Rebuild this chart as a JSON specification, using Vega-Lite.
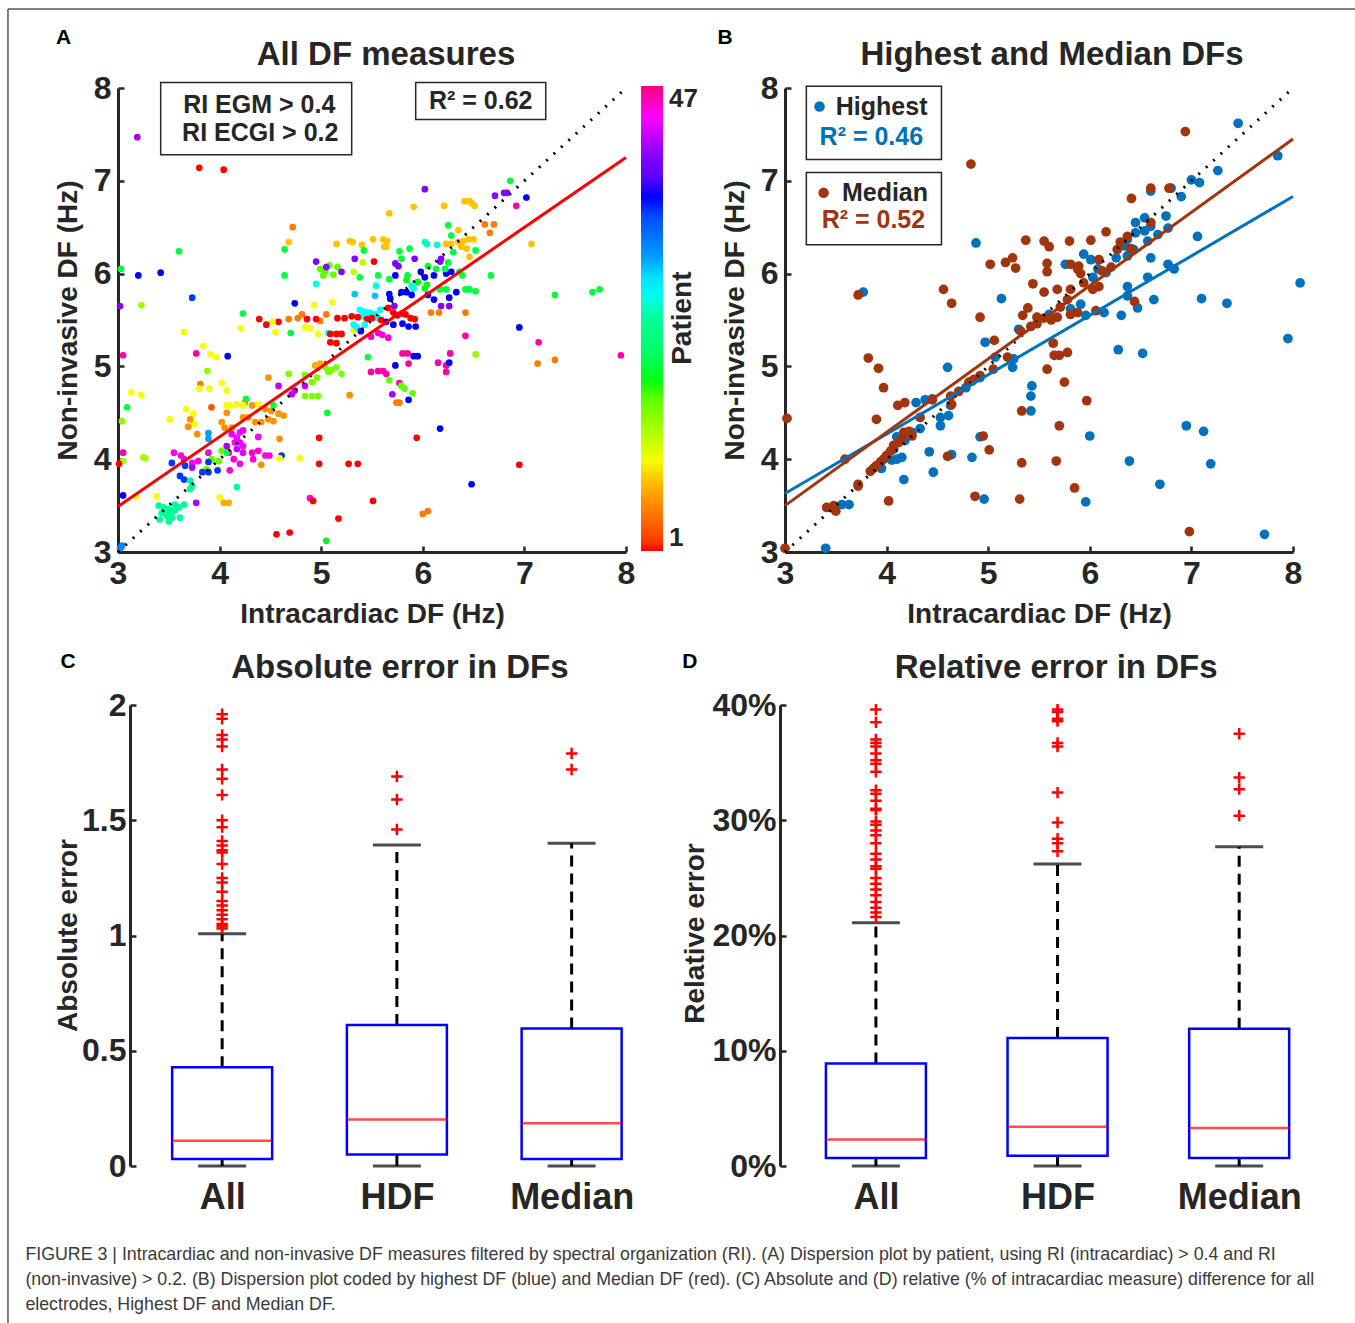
{
"$schema": "https://vega.github.io/schema/vega-lite/v6.json",
"padding": {"left": 7, "top": 8, "right": 0, "bottom": 0},
"background": "white",
"datasets": {
"dfA": [
{"x":3.80,"y":7.14,"p":1},{"x":4.04,"y":7.12,"p":1},{"x":6.86,"y":7.00,"p":19},{"x":6.02,"y":6.91,"p":40},{"x":6.71,"y":6.84,"p":40},{"x":6.80,"y":6.87,"p":40},{"x":6.83,"y":6.87,"p":40},{"x":7.02,"y":6.82,"p":36},{"x":6.92,"y":6.73,"p":46},{"x":5.91,"y":6.72,"p":8},{"x":5.67,"y":6.65,"p":8},{"x":6.21,"y":6.73,"p":8},{"x":6.41,"y":6.78,"p":8},{"x":6.46,"y":6.78,"p":8},{"x":6.48,"y":6.76,"p":8},{"x":6.51,"y":6.73,"p":8},{"x":4.72,"y":6.50,"p":5},{"x":6.61,"y":6.53,"p":5},{"x":6.70,"y":6.53,"p":5},{"x":6.66,"y":6.44,"p":5},{"x":6.25,"y":6.52,"p":19},{"x":6.28,"y":6.41,"p":19},{"x":6.35,"y":6.47,"p":8},{"x":4.68,"y":6.34,"p":8},
{"x":5.15,"y":6.32,"p":8},{"x":5.28,"y":6.35,"p":8},{"x":5.31,"y":6.34,"p":8},{"x":5.40,"y":6.31,"p":8},{"x":5.51,"y":6.37,"p":8},{"x":5.61,"y":6.37,"p":8},{"x":5.65,"y":6.35,"p":8},{"x":5.62,"y":6.29,"p":8},{"x":5.64,"y":6.29,"p":8},
{"x":6.02,"y":6.34,"p":25},{"x":6.04,"y":6.32,"p":25},{"x":6.14,"y":6.31,"p":25},
{"x":6.23,"y":6.32,"p":8},{"x":6.28,"y":6.32,"p":8},{"x":6.35,"y":6.34,"p":8},{"x":6.40,"y":6.35,"p":8},{"x":6.45,"y":6.37,"p":8},{"x":6.50,"y":6.37,"p":8},{"x":6.38,"y":6.29,"p":8},{"x":6.43,"y":6.27,"p":8},{"x":6.46,"y":6.18,"p":8},
{"x":3.60,"y":6.24,"p":19},{"x":4.64,"y":6.26,"p":19},{"x":5.42,"y":6.25,"p":19},{"x":7.07,"y":6.32,"p":8},{"x":6.52,"y":6.25,"p":19},{"x":6.30,"y":6.23,"p":19},{"x":3.03,"y":6.05,"p":19},
{"x":3.20,"y":5.98,"p":36},{"x":3.42,"y":6.01,"p":36},
{"x":4.95,"y":6.13,"p":40},{"x":5.33,"y":6.16,"p":40},{"x":5.73,"y":6.11,"p":40},{"x":5.76,"y":6.08,"p":40},{"x":5.92,"y":6.16,"p":40},{"x":6.17,"y":6.13,"p":40},{"x":6.18,"y":6.16,"p":40},
{"x":5.41,"y":6.12,"p":12},{"x":5.32,"y":6.02,"p":12},{"x":5.52,"y":6.13,"p":1},
{"x":4.99,"y":6.05,"p":16},{"x":5.04,"y":6.02,"p":16},{"x":5.08,"y":6.09,"p":16},{"x":5.16,"y":6.07,"p":16},{"x":5.02,"y":5.98,"p":16},{"x":5.12,"y":5.99,"p":16},
{"x":5.05,"y":6.07,"p":40},{"x":5.20,"y":6.02,"p":40},
{"x":4.64,"y":5.98,"p":19},{"x":5.77,"y":6.24,"p":19},{"x":5.87,"y":6.27,"p":19},{"x":5.79,"y":6.16,"p":19},
{"x":5.38,"y":5.96,"p":19},{"x":5.56,"y":5.98,"p":19},{"x":5.67,"y":5.94,"p":19},{"x":5.85,"y":5.98,"p":19},
{"x":5.73,"y":5.98,"p":36},{"x":5.98,"y":6.02,"p":36},{"x":6.02,"y":5.96,"p":36},{"x":6.11,"y":5.98,"p":36},{"x":6.23,"y":6.00,"p":36},{"x":6.28,"y":6.02,"p":36},
{"x":6.05,"y":6.08,"p":19},{"x":6.13,"y":6.05,"p":19},{"x":6.22,"y":6.05,"p":19},{"x":6.25,"y":6.12,"p":19},{"x":6.36,"y":6.02,"p":19},{"x":6.39,"y":5.98,"p":19},
{"x":4.95,"y":5.89,"p":26},{"x":5.54,"y":5.87,"p":26},{"x":5.89,"y":5.87,"p":26},{"x":5.91,"y":5.84,"p":26},
{"x":5.84,"y":5.93,"p":18},{"x":5.95,"y":5.91,"p":18},{"x":6.04,"y":5.88,"p":18},{"x":6.02,"y":5.84,"p":18},
{"x":6.67,"y":5.98,"p":19},{"x":6.42,"y":5.83,"p":19},{"x":6.46,"y":5.83,"p":19},{"x":6.52,"y":5.81,"p":19},{"x":6.17,"y":5.83,"p":19},{"x":6.23,"y":5.83,"p":19},
{"x":7.30,"y":5.77,"p":19},{"x":7.67,"y":5.80,"p":19},{"x":7.74,"y":5.83,"p":19},
{"x":3.73,"y":5.74,"p":35},{"x":3.23,"y":5.66,"p":13},{"x":3.02,"y":5.65,"p":40},
{"x":5.79,"y":5.80,"p":36},{"x":5.84,"y":5.80,"p":36},{"x":5.89,"y":5.77,"p":36},{"x":5.67,"y":5.78,"p":36},{"x":5.68,"y":5.73,"p":36},{"x":6.05,"y":5.77,"p":36},{"x":6.11,"y":5.72,"p":36},{"x":6.26,"y":5.74,"p":36},{"x":6.33,"y":5.80,"p":36},
{"x":5.72,"y":5.65,"p":40},{"x":6.18,"y":5.65,"p":40},{"x":6.26,"y":5.65,"p":40},
{"x":5.33,"y":5.78,"p":29},{"x":5.53,"y":5.76,"p":29},{"x":4.74,"y":5.68,"p":36},{"x":4.93,"y":5.66,"p":10},{"x":5.11,"y":5.69,"p":10},
{"x":4.23,"y":5.57,"p":19},{"x":4.70,"y":5.36,"p":19},
{"x":5.38,"y":5.61,"p":27},{"x":5.43,"y":5.59,"p":27},{"x":5.48,"y":5.58,"p":27},{"x":5.53,"y":5.56,"p":27},{"x":5.58,"y":5.61,"p":27},{"x":5.40,"y":5.54,"p":27},{"x":5.46,"y":5.52,"p":27},{"x":5.56,"y":5.52,"p":27},
{"x":4.39,"y":5.51,"p":1},{"x":4.46,"y":5.45,"p":1},{"x":4.58,"y":5.48,"p":1},
{"x":4.52,"y":5.48,"p":10},{"x":4.55,"y":5.37,"p":10},{"x":4.21,"y":5.41,"p":10},{"x":3.65,"y":5.37,"p":10},
{"x":4.68,"y":5.51,"p":5},{"x":4.77,"y":5.52,"p":5},{"x":4.81,"y":5.56,"p":5},{"x":4.99,"y":5.49,"p":5},{"x":5.05,"y":5.56,"p":5},
{"x":4.86,"y":5.51,"p":1},{"x":4.95,"y":5.51,"p":1},{"x":5.16,"y":5.52,"p":1},{"x":5.23,"y":5.52,"p":1},{"x":5.30,"y":5.54,"p":1},{"x":5.36,"y":5.53,"p":1},{"x":5.45,"y":5.51,"p":1},{"x":5.50,"y":5.52,"p":1},{"x":5.59,"y":5.50,"p":1},
{"x":4.84,"y":5.42,"p":10},{"x":4.89,"y":5.41,"p":10},{"x":4.97,"y":5.35,"p":10},{"x":5.32,"y":5.39,"p":10},
{"x":5.07,"y":5.36,"p":27},{"x":5.32,"y":5.45,"p":27},{"x":5.35,"y":5.42,"p":27},{"x":5.43,"y":5.45,"p":27},
{"x":5.09,"y":5.35,"p":1},{"x":5.15,"y":5.35,"p":1},{"x":5.20,"y":5.35,"p":1},{"x":5.09,"y":5.26,"p":1},{"x":5.15,"y":5.25,"p":1},
{"x":5.66,"y":5.63,"p":1},{"x":5.71,"y":5.58,"p":1},{"x":5.75,"y":5.55,"p":1},{"x":5.79,"y":5.57,"p":1},{"x":5.83,"y":5.56,"p":1},{"x":5.88,"y":5.52,"p":1},{"x":5.92,"y":5.51,"p":1},
{"x":5.64,"y":5.48,"p":36},{"x":5.71,"y":5.45,"p":36},{"x":5.80,"y":5.46,"p":36},{"x":5.86,"y":5.43,"p":36},{"x":5.93,"y":5.43,"p":36},
{"x":5.56,"y":5.36,"p":45},{"x":5.60,"y":5.34,"p":45},{"x":5.66,"y":5.31,"p":45},{"x":5.49,"y":5.32,"p":45},
{"x":5.39,"y":5.38,"p":36},{"x":6.95,"y":5.42,"p":36},
{"x":6.08,"y":5.58,"p":5},{"x":6.16,"y":5.58,"p":5},{"x":6.42,"y":5.58,"p":5},
{"x":6.42,"y":5.33,"p":46},{"x":7.14,"y":5.26,"p":46},{"x":7.95,"y":5.12,"p":46},
{"x":3.05,"y":5.12,"p":46},{"x":3.77,"y":5.14,"p":46},{"x":5.80,"y":5.14,"p":46},{"x":5.85,"y":5.14,"p":46},{"x":6.27,"y":5.14,"p":46},{"x":5.91,"y":5.11,"p":36},{"x":5.95,"y":5.11,"p":36},
{"x":4.08,"y":5.11,"p":36},{"x":6.52,"y":5.13,"p":14},{"x":3.84,"y":5.22,"p":10},{"x":3.91,"y":5.13,"p":10},{"x":3.97,"y":5.10,"p":10},
{"x":3.88,"y":4.95,"p":14},{"x":3.81,"y":4.81,"p":5},{"x":3.80,"y":4.76,"p":10},{"x":3.90,"y":4.76,"p":10},{"x":4.02,"y":4.82,"p":10},{"x":4.07,"y":4.74,"p":10},{"x":3.13,"y":4.72,"p":10},{"x":3.23,"y":4.69,"p":10},{"x":3.09,"y":4.56,"p":19},{"x":3.04,"y":4.41,"p":14},
{"x":3.67,"y":4.54,"p":10},{"x":3.51,"y":4.43,"p":10},{"x":3.74,"y":4.49,"p":10},{"x":3.75,"y":4.38,"p":10},
{"x":3.71,"y":4.43,"p":6},{"x":3.78,"y":4.27,"p":6},{"x":3.69,"y":4.35,"p":6},{"x":3.92,"y":4.56,"p":3},{"x":3.89,"y":4.28,"p":30},{"x":3.89,"y":4.22,"p":30},
{"x":4.48,"y":4.88,"p":6},{"x":4.58,"y":4.79,"p":42},
{"x":4.68,"y":4.92,"p":15},{"x":4.84,"y":4.91,"p":15},{"x":4.94,"y":5.01,"p":7},{"x":4.99,"y":5.03,"p":7},{"x":5.04,"y":4.99,"p":15},{"x":5.07,"y":4.94,"p":15},{"x":5.10,"y":4.96,"p":15},{"x":5.15,"y":4.99,"p":15},{"x":5.20,"y":4.92,"p":15},{"x":4.91,"y":4.83,"p":15},{"x":4.96,"y":4.88,"p":15},{"x":4.84,"y":4.68,"p":15},{"x":4.91,"y":4.68,"p":15},{"x":4.97,"y":4.68,"p":15},
{"x":4.71,"y":4.70,"p":42},{"x":4.74,"y":4.74,"p":42},{"x":4.84,"y":4.79,"p":42},
{"x":4.07,"y":4.50,"p":6},{"x":4.10,"y":4.58,"p":10},{"x":4.17,"y":4.59,"p":10},{"x":4.25,"y":4.61,"p":6},{"x":4.32,"y":4.58,"p":6},{"x":4.38,"y":4.59,"p":10},{"x":4.45,"y":4.54,"p":6},{"x":4.51,"y":4.52,"p":6},{"x":4.58,"y":4.49,"p":6},{"x":4.63,"y":4.47,"p":6},{"x":4.23,"y":4.45,"p":6},{"x":4.28,"y":4.45,"p":6},{"x":4.35,"y":4.40,"p":6},{"x":4.41,"y":4.40,"p":6},{"x":4.48,"y":4.43,"p":6},{"x":4.53,"y":4.41,"p":6},{"x":4.02,"y":4.40,"p":6},{"x":4.05,"y":4.34,"p":6},{"x":4.12,"y":4.34,"p":6},{"x":4.07,"y":4.58,"p":10},{"x":4.23,"y":4.58,"p":10},
{"x":4.26,"y":4.65,"p":19},{"x":4.53,"y":4.58,"p":19},{"x":4.59,"y":4.22,"p":6},{"x":4.41,"y":3.94,"p":6},
{"x":4.12,"y":4.27,"p":43},{"x":4.17,"y":4.23,"p":44},{"x":4.20,"y":4.29,"p":44},{"x":4.23,"y":4.31,"p":43},{"x":4.15,"y":4.18,"p":44},{"x":4.20,"y":4.18,"p":43},{"x":4.23,"y":4.14,"p":44},{"x":4.17,"y":4.11,"p":42},{"x":4.38,"y":4.24,"p":44},{"x":4.09,"y":4.07,"p":44},{"x":4.14,"y":4.00,"p":45},{"x":4.20,"y":3.95,"p":45},{"x":4.23,"y":4.07,"p":43},{"x":4.07,"y":4.14,"p":41},
{"x":4.32,"y":4.07,"p":45},{"x":4.38,"y":4.09,"p":45},{"x":4.45,"y":4.04,"p":45},{"x":4.33,"y":4.00,"p":45},{"x":4.49,"y":4.04,"p":45},
{"x":3.92,"y":4.00,"p":16},{"x":3.99,"y":3.98,"p":16},{"x":4.02,"y":4.09,"p":16},{"x":4.07,"y":4.07,"p":19},{"x":3.87,"y":3.89,"p":16},
{"x":3.55,"y":4.07,"p":45},{"x":3.62,"y":4.04,"p":45},{"x":3.65,"y":4.00,"p":45},{"x":3.73,"y":3.96,"p":44},{"x":3.79,"y":3.98,"p":45},{"x":3.89,"y":4.07,"p":45},{"x":4.10,"y":3.88,"p":45},
{"x":3.53,"y":3.96,"p":35},{"x":3.66,"y":3.93,"p":35},{"x":3.83,"y":3.86,"p":35},{"x":3.89,"y":3.86,"p":35},{"x":3.98,"y":3.88,"p":35},{"x":3.89,"y":3.97,"p":35},{"x":4.61,"y":4.04,"p":35},
{"x":3.61,"y":3.82,"p":35},{"x":3.65,"y":3.78,"p":35},{"x":3.73,"y":3.91,"p":41},
{"x":3.05,"y":4.07,"p":46},{"x":3.05,"y":3.98,"p":13},{"x":3.25,"y":4.02,"p":13},{"x":3.27,"y":4.01,"p":13},{"x":3.01,"y":3.95,"p":1},
{"x":4.79,"y":4.01,"p":10},{"x":4.59,"y":4.01,"p":10},
{"x":4.98,"y":4.23,"p":1},{"x":4.98,"y":3.95,"p":1},{"x":5.27,"y":3.95,"p":1},{"x":5.36,"y":3.95,"p":1},{"x":5.94,"y":4.23,"p":1},{"x":6.95,"y":3.94,"p":1},
{"x":6.17,"y":4.33,"p":36},{"x":6.48,"y":3.73,"p":36},{"x":5.06,"y":4.50,"p":19},{"x":5.28,"y":4.69,"p":6},
{"x":5.49,"y":4.94,"p":46},{"x":5.56,"y":4.95,"p":46},{"x":5.61,"y":4.95,"p":46},{"x":5.64,"y":4.92,"p":46},{"x":5.77,"y":4.82,"p":46},{"x":5.86,"y":5.03,"p":46},{"x":6.15,"y":5.04,"p":46},{"x":6.23,"y":5.01,"p":46},{"x":6.23,"y":4.94,"p":46},
{"x":5.67,"y":4.85,"p":16},{"x":5.79,"y":4.79,"p":16},{"x":5.82,"y":4.76,"p":16},{"x":5.90,"y":4.71,"p":16},{"x":5.70,"y":4.70,"p":41},{"x":5.74,"y":4.61,"p":5},{"x":5.77,"y":4.61,"p":5},
{"x":5.86,"y":4.64,"p":36},{"x":5.73,"y":5.01,"p":36},{"x":6.26,"y":5.04,"p":36},{"x":5.46,"y":5.10,"p":19},{"x":7.13,"y":5.03,"p":5},{"x":7.30,"y":5.07,"p":5},
{"x":4.00,"y":3.59,"p":10},{"x":3.38,"y":3.60,"p":10},{"x":3.18,"y":3.60,"p":10},{"x":4.04,"y":3.53,"p":7},{"x":4.09,"y":3.53,"p":7},{"x":4.89,"y":3.58,"p":45},{"x":4.92,"y":3.55,"p":1},
{"x":5.51,"y":3.55,"p":1},{"x":5.17,"y":3.36,"p":1},{"x":4.56,"y":3.19,"p":1},{"x":4.69,"y":3.21,"p":1},{"x":5.05,"y":3.12,"p":18},{"x":6.00,"y":3.41,"p":5},{"x":6.05,"y":3.44,"p":5},{"x":3.05,"y":3.61,"p":36},
{"x":3.02,"y":3.04,"p":31},{"x":3.04,"y":3.07,"p":31},{"x":3.03,"y":3.05,"p":31},
{"x":3.40,"y":3.50,"p":24},{"x":3.45,"y":3.48,"p":24},{"x":3.50,"y":3.46,"p":24},{"x":3.55,"y":3.44,"p":24},{"x":3.60,"y":3.48,"p":24},{"x":3.43,"y":3.42,"p":24},{"x":3.48,"y":3.39,"p":24},{"x":3.53,"y":3.37,"p":24},{"x":3.41,"y":3.35,"p":24},{"x":3.50,"y":3.33,"p":24},{"x":3.61,"y":3.37,"p":24},{"x":3.65,"y":3.51,"p":24},{"x":3.56,"y":3.51,"p":24},{"x":3.46,"y":3.44,"p":24},{"x":3.52,"y":3.42,"p":24},
{"x":3.71,"y":3.77,"p":24},{"x":3.73,"y":3.71,"p":24},{"x":3.71,"y":3.68,"p":24},{"x":4.17,"y":3.70,"p":24},{"x":3.77,"y":3.53,"p":41},
{"x":3.19,"y":7.47,"p":41}
],
"dfB": [
{"x":7.85,"y":7.27,"s":"Highest"},{"x":7.46,"y":7.62,"s":"Highest"},{"x":7.26,"y":7.11,"s":"Highest"},{"x":7.00,"y":7.01,"s":"Highest"},{"x":7.08,"y":6.98,"s":"Highest"},{"x":6.90,"y":6.83,"s":"Highest"},{"x":6.80,"y":6.92,"s":"Highest"},{"x":6.60,"y":6.89,"s":"Highest"},{"x":6.45,"y":6.55,"s":"Highest"},{"x":6.54,"y":6.60,"s":"Highest"},{"x":6.60,"y":6.51,"s":"Highest"},{"x":6.75,"y":6.62,"s":"Highest"},{"x":6.77,"y":6.49,"s":"Highest"},{"x":6.45,"y":6.44,"s":"Highest"},{"x":6.54,"y":6.46,"s":"Highest"},{"x":6.57,"y":6.35,"s":"Highest"},{"x":6.67,"y":6.42,"s":"Highest"},{"x":7.06,"y":6.40,"s":"Highest"},{"x":6.37,"y":6.37,"s":"Highest"},{"x":6.34,"y":6.30,"s":"Highest"},{"x":6.43,"y":6.26,"s":"Highest"},{"x":6.37,"y":6.19,"s":"Highest"},{"x":6.26,"y":6.17,"s":"Highest"},{"x":6.60,"y":6.17,"s":"Highest"},{"x":6.77,"y":6.10,"s":"Highest"},{"x":6.83,"y":6.05,"s":"Highest"},{"x":5.94,"y":6.21,"s":"Highest"},{"x":6.01,"y":6.15,"s":"Highest"},{"x":5.76,"y":6.10,"s":"Highest"},{"x":6.08,"y":6.05,"s":"Highest"},{"x":6.16,"y":6.01,"s":"Highest"},{"x":6.03,"y":5.96,"s":"Highest"},{"x":4.88,"y":6.33,"s":"Highest"},{"x":6.57,"y":5.96,"s":"Highest"},{"x":6.37,"y":5.86,"s":"Highest"},{"x":6.63,"y":5.72,"s":"Highest"},{"x":7.10,"y":5.73,"s":"Highest"},{"x":7.35,"y":5.68,"s":"Highest"},{"x":8.07,"y":5.90,"s":"Highest"},
{"x":5.13,"y":5.73,"s":"Highest"},{"x":5.81,"y":5.62,"s":"Highest"},{"x":5.91,"y":5.67,"s":"Highest"},{"x":5.96,"y":5.55,"s":"Highest"},{"x":6.14,"y":5.58,"s":"Highest"},{"x":6.31,"y":5.55,"s":"Highest"},{"x":6.47,"y":5.63,"s":"Highest"},{"x":5.30,"y":5.40,"s":"Highest"},{"x":5.60,"y":5.56,"s":"Highest"},{"x":6.37,"y":5.76,"s":"Highest"},{"x":4.97,"y":5.26,"s":"Highest"},{"x":7.95,"y":5.30,"s":"Highest"},{"x":3.77,"y":5.80,"s":"Highest"},
{"x":6.28,"y":5.18,"s":"Highest"},{"x":6.52,"y":5.14,"s":"Highest"},{"x":4.60,"y":4.99,"s":"Highest"},{"x":5.07,"y":5.10,"s":"Highest"},{"x":5.25,"y":5.08,"s":"Highest"},{"x":5.24,"y":4.99,"s":"Highest"},{"x":5.43,"y":4.79,"s":"Highest"},{"x":5.42,"y":4.68,"s":"Highest"},{"x":5.42,"y":4.52,"s":"Highest"},{"x":4.92,"y":4.88,"s":"Highest"},{"x":4.84,"y":4.84,"s":"Highest"},{"x":4.78,"y":4.77,"s":"Highest"},{"x":4.63,"y":4.58,"s":"Highest"},{"x":4.61,"y":4.47,"s":"Highest"},{"x":4.53,"y":4.45,"s":"Highest"},{"x":4.53,"y":4.36,"s":"Highest"},{"x":4.29,"y":4.61,"s":"Highest"},{"x":4.38,"y":4.64,"s":"Highest"},{"x":4.45,"y":4.65,"s":"Highest"},{"x":4.33,"y":4.33,"s":"Highest"},{"x":4.25,"y":4.29,"s":"Highest"},{"x":4.10,"y":4.24,"s":"Highest"},{"x":4.18,"y":4.20,"s":"Highest"},{"x":4.07,"y":4.11,"s":"Highest"},{"x":4.10,"y":4.00,"s":"Highest"},{"x":4.15,"y":4.02,"s":"Highest"},{"x":4.05,"y":3.99,"s":"Highest"},{"x":3.95,"y":3.90,"s":"Highest"},{"x":4.42,"y":4.08,"s":"Highest"},{"x":4.46,"y":3.86,"s":"Highest"},{"x":4.64,"y":4.05,"s":"Highest"},{"x":4.84,"y":4.02,"s":"Highest"},{"x":4.92,"y":4.24,"s":"Highest"},{"x":4.17,"y":3.78,"s":"Highest"},{"x":4.96,"y":3.57,"s":"Highest"},{"x":5.96,"y":3.54,"s":"Highest"},{"x":6.00,"y":4.25,"s":"Highest"},{"x":6.39,"y":3.98,"s":"Highest"},{"x":6.69,"y":3.73,"s":"Highest"},{"x":6.95,"y":4.36,"s":"Highest"},{"x":7.12,"y":4.30,"s":"Highest"},{"x":7.19,"y":3.95,"s":"Highest"},{"x":7.72,"y":3.19,"s":"Highest"},{"x":3.56,"y":3.51,"s":"Highest"},{"x":3.63,"y":3.51,"s":"Highest"},{"x":3.40,"y":3.04,"s":"Highest"},
{"x":4.83,"y":7.18,"s":"Median"},{"x":6.94,"y":7.53,"s":"Median"},{"x":6.60,"y":6.92,"s":"Median"},{"x":6.78,"y":6.92,"s":"Median"},{"x":6.41,"y":6.81,"s":"Median"},{"x":6.60,"y":6.55,"s":"Median"},{"x":6.16,"y":6.45,"s":"Median"},{"x":5.37,"y":6.36,"s":"Median"},{"x":5.55,"y":6.35,"s":"Median"},{"x":5.60,"y":6.29,"s":"Median"},{"x":5.80,"y":6.35,"s":"Median"},{"x":6.01,"y":6.36,"s":"Median"},{"x":6.37,"y":6.40,"s":"Median"},{"x":6.30,"y":6.34,"s":"Median"},{"x":6.27,"y":6.26,"s":"Median"},{"x":6.40,"y":6.27,"s":"Median"},{"x":5.02,"y":6.10,"s":"Median"},{"x":5.17,"y":6.12,"s":"Median"},{"x":5.24,"y":6.17,"s":"Median"},{"x":5.27,"y":6.06,"s":"Median"},{"x":5.58,"y":6.11,"s":"Median"},{"x":5.58,"y":6.02,"s":"Median"},{"x":5.81,"y":6.10,"s":"Median"},{"x":5.88,"y":6.05,"s":"Median"},{"x":5.91,"y":6.00,"s":"Median"},{"x":5.89,"y":6.08,"s":"Median"},{"x":6.09,"y":6.15,"s":"Median"},{"x":6.12,"y":6.03,"s":"Median"},{"x":6.21,"y":6.07,"s":"Median"},{"x":5.94,"y":5.90,"s":"Median"},{"x":6.03,"y":5.83,"s":"Median"},{"x":6.09,"y":5.86,"s":"Median"},{"x":5.44,"y":5.89,"s":"Median"},{"x":5.55,"y":5.80,"s":"Median"},{"x":5.68,"y":5.83,"s":"Median"},{"x":5.81,"y":5.83,"s":"Median"},{"x":4.56,"y":5.83,"s":"Median"},{"x":4.64,"y":5.68,"s":"Median"},{"x":3.72,"y":5.77,"s":"Median"},{"x":5.78,"y":5.72,"s":"Median"},{"x":5.71,"y":5.64,"s":"Median"},{"x":5.81,"y":5.56,"s":"Median"},{"x":5.88,"y":5.58,"s":"Median"},{"x":6.06,"y":5.60,"s":"Median"},{"x":6.44,"y":5.70,"s":"Median"},{"x":5.39,"y":5.63,"s":"Median"},{"x":5.34,"y":5.55,"s":"Median"},{"x":5.48,"y":5.53,"s":"Median"},{"x":5.55,"y":5.52,"s":"Median"},{"x":5.62,"y":5.50,"s":"Median"},{"x":5.68,"y":5.53,"s":"Median"},{"x":5.48,"y":5.46,"s":"Median"},{"x":5.42,"y":5.43,"s":"Median"},{"x":5.32,"y":5.38,"s":"Median"},{"x":4.92,"y":5.53,"s":"Median"},{"x":5.06,"y":5.28,"s":"Median"},{"x":5.64,"y":5.25,"s":"Median"},
{"x":3.82,"y":5.09,"s":"Median"},{"x":3.92,"y":4.98,"s":"Median"},{"x":3.97,"y":4.77,"s":"Median"},{"x":3.02,"y":4.44,"s":"Median"},{"x":3.90,"y":4.43,"s":"Median"},{"x":4.11,"y":4.58,"s":"Median"},{"x":4.18,"y":4.61,"s":"Median"},{"x":4.45,"y":4.64,"s":"Median"},{"x":4.33,"y":4.45,"s":"Median"},{"x":4.63,"y":4.68,"s":"Median"},{"x":4.64,"y":4.59,"s":"Median"},{"x":4.71,"y":4.73,"s":"Median"},{"x":4.81,"y":4.83,"s":"Median"},{"x":4.86,"y":4.86,"s":"Median"},{"x":4.92,"y":4.90,"s":"Median"},{"x":5.05,"y":4.97,"s":"Median"},{"x":5.19,"y":5.10,"s":"Median"},{"x":5.65,"y":5.12,"s":"Median"},{"x":5.70,"y":5.12,"s":"Median"},{"x":5.78,"y":5.15,"s":"Median"},{"x":5.58,"y":4.97,"s":"Median"},{"x":5.75,"y":4.83,"s":"Median"},{"x":5.97,"y":4.63,"s":"Median"},{"x":5.33,"y":4.52,"s":"Median"},{"x":5.70,"y":4.36,"s":"Median"},{"x":4.17,"y":4.29,"s":"Median"},{"x":4.22,"y":4.30,"s":"Median"},{"x":4.25,"y":4.25,"s":"Median"},{"x":4.15,"y":4.22,"s":"Median"},{"x":4.12,"y":4.18,"s":"Median"},{"x":4.07,"y":4.15,"s":"Median"},{"x":4.04,"y":4.09,"s":"Median"},{"x":4.00,"y":4.04,"s":"Median"},{"x":3.97,"y":4.00,"s":"Median"},{"x":3.94,"y":3.97,"s":"Median"},{"x":3.90,"y":3.93,"s":"Median"},{"x":3.87,"y":3.90,"s":"Median"},{"x":3.84,"y":3.87,"s":"Median"},{"x":3.59,"y":4.00,"s":"Median"},{"x":3.72,"y":3.73,"s":"Median"},{"x":3.72,"y":3.71,"s":"Median"},{"x":3.41,"y":3.48,"s":"Median"},{"x":3.48,"y":3.50,"s":"Median"},{"x":3.50,"y":3.44,"s":"Median"},{"x":4.02,"y":3.55,"s":"Median"},{"x":4.60,"y":4.03,"s":"Median"},{"x":4.95,"y":4.25,"s":"Median"},{"x":5.01,"y":4.10,"s":"Median"},{"x":4.87,"y":3.60,"s":"Median"},{"x":5.31,"y":3.57,"s":"Median"},{"x":5.33,"y":3.96,"s":"Median"},{"x":5.67,"y":3.98,"s":"Median"},{"x":5.85,"y":3.69,"s":"Median"},{"x":6.98,"y":3.22,"s":"Median"},{"x":3.00,"y":3.04,"s":"Median"}
],
"boxC": [{"pos":1,"lo":0,"q1":0.03,"med":0.11,"q3":0.428,"hi":1.008},{"pos":2,"lo":0,"q1":0.05,"med":0.202,"q3":0.612,"hi":1.393},{"pos":3,"lo":0,"q1":0.03,"med":0.186,"q3":0.597,"hi":1.40}],
"outC": [{"pos":1,"v":1.96},{"pos":1,"v":1.94},{"pos":1,"v":1.87},{"pos":1,"v":1.85},{"pos":1,"v":1.82},{"pos":1,"v":1.72},{"pos":1,"v":1.68},{"pos":1,"v":1.61},{"pos":1,"v":1.50},{"pos":1,"v":1.47},{"pos":1,"v":1.41},{"pos":1,"v":1.39},{"pos":1,"v":1.37},{"pos":1,"v":1.36},{"pos":1,"v":1.31},{"pos":1,"v":1.25},{"pos":1,"v":1.23},{"pos":1,"v":1.19},{"pos":1,"v":1.15},{"pos":1,"v":1.13},{"pos":1,"v":1.11},{"pos":1,"v":1.09},{"pos":1,"v":1.07},{"pos":1,"v":1.05},{"pos":1,"v":1.04},{"pos":1,"v":1.03},{"pos":2,"v":1.69},{"pos":2,"v":1.59},{"pos":2,"v":1.46},{"pos":3,"v":1.79},{"pos":3,"v":1.72}],
"boxD": [{"pos":1,"lo":0,"q1":0.007,"med":0.023,"q3":0.089,"hi":0.211},{"pos":2,"lo":0,"q1":0.009,"med":0.034,"q3":0.111,"hi":0.262},{"pos":3,"lo":0,"q1":0.007,"med":0.033,"q3":0.119,"hi":0.277}],
"outD": [{"pos":1,"v":0.396},{"pos":1,"v":0.385},{"pos":1,"v":0.37},{"pos":1,"v":0.367},{"pos":1,"v":0.364},{"pos":1,"v":0.358},{"pos":1,"v":0.352},{"pos":1,"v":0.349},{"pos":1,"v":0.342},{"pos":1,"v":0.326},{"pos":1,"v":0.323},{"pos":1,"v":0.317},{"pos":1,"v":0.31},{"pos":1,"v":0.309},{"pos":1,"v":0.299},{"pos":1,"v":0.296},{"pos":1,"v":0.291},{"pos":1,"v":0.287},{"pos":1,"v":0.28},{"pos":1,"v":0.271},{"pos":1,"v":0.266},{"pos":1,"v":0.26},{"pos":1,"v":0.258},{"pos":1,"v":0.25},{"pos":1,"v":0.245},{"pos":1,"v":0.24},{"pos":1,"v":0.235},{"pos":1,"v":0.229},{"pos":1,"v":0.224},{"pos":1,"v":0.22},{"pos":1,"v":0.216},{"pos":2,"v":0.396},{"pos":2,"v":0.394},{"pos":2,"v":0.388},{"pos":2,"v":0.386},{"pos":2,"v":0.367},{"pos":2,"v":0.364},{"pos":2,"v":0.324},{"pos":2,"v":0.298},{"pos":2,"v":0.284},{"pos":2,"v":0.28},{"pos":2,"v":0.273},{"pos":3,"v":0.375},{"pos":3,"v":0.337},{"pos":3,"v":0.327},{"pos":3,"v":0.304}]
},
"concat": [
{
"width": 508, "height": 464,
"layer": [
{"data": {"name": "dfA"}, "mark": {"type": "circle", "size": 45, "opacity": 1},
 "encoding": {
  "x": {"field": "x", "type": "quantitative", "scale": {"domain": [3, 8], "nice": false}, "axis": {"title": "Intracardiac DF (Hz)", "values": [3,4,5,6,7,8], "format": "d", "labelPadding": 12, "titleX": 254, "titleY": 62, "titleBaseline": "middle", "titleAlign": "center"}},
  "y": {"field": "y", "type": "quantitative", "scale": {"domain": [3, 8], "nice": false}, "axis": {"title": "Non-invasive DF (Hz)", "values": [3,4,5,6,7,8], "format": "d", "labelPadding": 13, "titleX": -50, "titleY": 232, "titleAngle": 270, "titleBaseline": "middle", "titleAlign": "center"}},
  "color": {"field": "p", "type": "quantitative",
   "scale": {"domain": [1,5.3,7.9,9.7,13,17.8,24,27,30.4,36,39.9,44.2,47], "range": ["#ff0000","#ff8000","#ffc000","#ffff00","#a0ff00","#00ff00","#00ff99","#00ffff","#0090ff","#0000ff","#8000ff","#ff00ff","#ff0080"]},
   "legend": {"orient": "none", "legendX": 523, "legendY": -2, "direction": "vertical", "gradientLength": 465, "gradientThickness": 22, "gradientStrokeWidth": 0, "values": [1, 47], "labelFontSize": 26, "labelFontWeight": "bold", "labelColor": "#262626", "labelOffset": 6, "title": null}}
 }},
{"data": {"values": [{"x":3,"y":3},{"x":8,"y":8}]}, "mark": {"type": "line", "color": "#000000", "strokeWidth": 3, "strokeDash": [2, 8]},
 "encoding": {"x": {"field": "x", "type": "quantitative"}, "y": {"field": "y", "type": "quantitative"}}},
{"data": {"values": [{"x":3,"y":3.49},{"x":8,"y":7.25}]}, "mark": {"type": "line", "color": "#ff0000", "strokeWidth": 3},
 "encoding": {"x": {"field": "x", "type": "quantitative"}, "y": {"field": "y", "type": "quantitative"}}},
{"data": {"values": [{"x":3.42,"x2":5.30,"y":8.06,"y2":7.28},{"x":5.93,"x2":7.21,"y":8.06,"y2":7.66}]}, "mark": {"type": "rect", "fill": "#ffffff", "stroke": "#262626", "strokeWidth": 1.5},
 "encoding": {"x": {"field": "x", "type": "quantitative"}, "x2": {"field": "x2"}, "y": {"field": "y", "type": "quantitative"}, "y2": {"field": "y2"}}},
{"data": {"values": [{"x":4.39,"y":7.82,"t":"RI EGM > 0.4"},{"x":4.40,"y":7.52,"t":"RI ECGI > 0.2"},{"x":6.57,"y":7.86,"t":"R² = 0.62"}]}, "mark": {"type": "text", "fontSize": 25, "fontWeight": "bold", "color": "#262626", "align": "center", "baseline": "middle"},
 "encoding": {"x": {"field": "x", "type": "quantitative"}, "y": {"field": "y", "type": "quantitative"}, "text": {"field": "t"}}},
{"data": {"values": [{"x":5.638,"y":8.356,"t":"All DF measures"}]}, "mark": {"type": "text", "fontSize": 33, "fontWeight": "bold", "color": "#262626", "align": "center", "baseline": "middle"},
 "encoding": {"x": {"field": "x", "type": "quantitative"}, "y": {"field": "y", "type": "quantitative"}, "text": {"field": "t"}}},
{"data": {"values": [{"x":8.561,"y":5.52,"t":"Patient"}]}, "mark": {"type": "text", "fontSize": 28, "fontWeight": "bold", "color": "#262626", "align": "center", "baseline": "middle", "angle": 270},
 "encoding": {"x": {"field": "x", "type": "quantitative"}, "y": {"field": "y", "type": "quantitative"}, "text": {"field": "t"}}},
{"data": {"values": [{"x":2.464,"y":8.54,"t":"A"}]}, "mark": {"type": "text", "fontSize": 21, "fontWeight": "bold", "color": "#000000", "align": "center", "baseline": "middle"},
 "encoding": {"x": {"field": "x", "type": "quantitative"}, "y": {"field": "y", "type": "quantitative"}, "text": {"field": "t"}}},
{"data": {"values": [{"x":1.917,"x2":15.175,"y":8.851,"y2":8.851},{"x":1.917,"x2":1.917,"y":8.851,"y2":-5.308}]}, "mark": {"type": "rule", "color": "#555555", "strokeWidth": 1.5},
 "encoding": {"x": {"field": "x", "type": "quantitative"}, "x2": {"field": "x2"}, "y": {"field": "y", "type": "quantitative"}, "y2": {"field": "y2"}}}
]
},
{
"width": 508, "height": 464,
"layer": [
{"data": {"name": "dfB"}, "mark": {"type": "circle", "size": 95, "opacity": 1},
 "encoding": {
  "x": {"field": "x", "type": "quantitative", "scale": {"domain": [3, 8], "nice": false}, "axis": {"title": "Intracardiac DF (Hz)", "values": [3,4,5,6,7,8], "format": "d", "labelPadding": 12, "titleX": 254, "titleY": 62, "titleBaseline": "middle", "titleAlign": "center"}},
  "y": {"field": "y", "type": "quantitative", "scale": {"domain": [3, 8], "nice": false}, "axis": {"title": "Non-invasive DF (Hz)", "values": [3,4,5,6,7,8], "format": "d", "labelPadding": 13, "titleX": -50, "titleY": 232, "titleAngle": 270, "titleBaseline": "middle", "titleAlign": "center"}},
  "color": {"field": "s", "type": "nominal", "scale": {"domain": ["Highest", "Median"], "range": ["#0072BD", "#A2350E"]}, "legend": null}
 }},
{"data": {"values": [{"x":3,"y":3},{"x":8,"y":8}]}, "mark": {"type": "line", "color": "#000000", "strokeWidth": 3, "strokeDash": [2, 8]},
 "encoding": {"x": {"field": "x", "type": "quantitative"}, "y": {"field": "y", "type": "quantitative"}}},
{"data": {"values": [{"x":3,"y":3.63,"s":"Highest"},{"x":8,"y":6.83,"s":"Highest"},{"x":3,"y":3.50,"s":"Median"},{"x":8,"y":7.45,"s":"Median"}]}, "mark": {"type": "line", "strokeWidth": 3},
 "encoding": {"x": {"field": "x", "type": "quantitative"}, "y": {"field": "y", "type": "quantitative"}, "color": {"field": "s", "type": "nominal"}}},
{"data": {"values": [{"x":3.21,"x2":4.54,"y":8.02,"y2":7.23},{"x":3.21,"x2":4.54,"y":7.09,"y2":6.31}]}, "mark": {"type": "rect", "fill": "#ffffff", "stroke": "#262626", "strokeWidth": 1.5},
 "encoding": {"x": {"field": "x", "type": "quantitative"}, "x2": {"field": "x2"}, "y": {"field": "y", "type": "quantitative"}, "y2": {"field": "y2"}}},
{"data": {"values": [{"x":3.34,"y":7.80,"s":"Highest"},{"x":3.38,"y":6.87,"s":"Median"}]}, "mark": {"type": "circle", "size": 110, "opacity": 1},
 "encoding": {"x": {"field": "x", "type": "quantitative"}, "y": {"field": "y", "type": "quantitative"}, "color": {"field": "s", "type": "nominal"}}},
{"data": {"values": [{"x":3.50,"y":7.80,"t":"Highest"},{"x":3.56,"y":6.87,"t":"Median"}]}, "mark": {"type": "text", "fontSize": 25, "fontWeight": "bold", "color": "#262626", "align": "left", "baseline": "middle"},
 "encoding": {"x": {"field": "x", "type": "quantitative"}, "y": {"field": "y", "type": "quantitative"}, "text": {"field": "t"}}},
{"data": {"values": [{"x":3.85,"y":7.47,"t":"R² = 0.46","s":"Highest"},{"x":3.87,"y":6.58,"t":"R² = 0.52","s":"Median"}]}, "mark": {"type": "text", "fontSize": 25, "fontWeight": "bold", "align": "center", "baseline": "middle"},
 "encoding": {"x": {"field": "x", "type": "quantitative"}, "y": {"field": "y", "type": "quantitative"}, "text": {"field": "t"}, "color": {"field": "s", "type": "nominal"}}},
{"data": {"values": [{"x":5.628,"y":8.356,"t":"Highest and Median DFs"}]}, "mark": {"type": "text", "fontSize": 33, "fontWeight": "bold", "color": "#262626", "align": "center", "baseline": "middle"},
 "encoding": {"x": {"field": "x", "type": "quantitative"}, "y": {"field": "y", "type": "quantitative"}, "text": {"field": "t"}}},
{"data": {"values": [{"x":2.409,"y":8.54,"t":"B"}]}, "mark": {"type": "text", "fontSize": 21, "fontWeight": "bold", "color": "#000000", "align": "center", "baseline": "middle"},
 "encoding": {"x": {"field": "x", "type": "quantitative"}, "y": {"field": "y", "type": "quantitative"}, "text": {"field": "t"}}}
]
},
{
"width": 546, "height": 461,
"layer": [
{"data": {"name": "boxC"}, "mark": {"type": "rule", "color": "#000000", "strokeWidth": 3, "strokeDash": [11, 7]},
 "encoding": {
  "x": {"field": "pos", "type": "quantitative", "scale": {"domain": [0.4326, 3.5], "nice": false, "zero": false}, "axis": {"title": null, "values": [1,2,3], "labelExpr": "['','All','HDF','Median'][datum.value]", "domain": false, "ticks": false, "labelFontSize": 36, "labelPadding": 14}},
  "y": {"field": "q3", "type": "quantitative", "scale": {"domain": [0, 2], "nice": false}, "axis": {"title": "Absolute error", "offset": -12, "values": [0,0.5,1,1.5,2], "labelExpr": "'' + datum.value", "titleX": -62, "titleY": 230, "titleAngle": 270, "titleBaseline": "middle", "titleAlign": "center"}},
  "y2": {"field": "hi"}}},
{"data": {"name": "boxC"}, "mark": {"type": "rule", "color": "#000000", "strokeWidth": 3, "strokeDash": [11, 7]},
 "encoding": {"x": {"field": "pos", "type": "quantitative"}, "y": {"field": "lo", "type": "quantitative"}, "y2": {"field": "q1"}}},
{"data": {"name": "boxC"}, "mark": {"type": "tick", "orient": "horizontal", "color": "#000000", "size": 48, "thickness": 3},
 "encoding": {"x": {"field": "pos", "type": "quantitative"}, "y": {"field": "hi", "type": "quantitative"}}},
{"data": {"name": "boxC"}, "mark": {"type": "tick", "orient": "horizontal", "color": "#000000", "size": 48, "thickness": 3},
 "encoding": {"x": {"field": "pos", "type": "quantitative"}, "y": {"field": "lo", "type": "quantitative"}}},
{"data": {"name": "boxC"}, "mark": {"type": "bar", "width": 100, "fill": "#ffffff", "fillOpacity": 0, "stroke": "#0000ff", "strokeWidth": 2.5},
 "encoding": {"x": {"field": "pos", "type": "quantitative"}, "y": {"field": "q1", "type": "quantitative"}, "y2": {"field": "q3"}}},
{"data": {"name": "boxC"}, "mark": {"type": "tick", "orient": "horizontal", "color": "#ff0000", "size": 100, "thickness": 2.5},
 "encoding": {"x": {"field": "pos", "type": "quantitative"}, "y": {"field": "med", "type": "quantitative"}}},
{"data": {"name": "outC"}, "mark": {"type": "point", "shape": "M-1,0L1,0M0,-1L0,1", "filled": false, "color": "#ff0000", "strokeWidth": 2.5, "size": 130, "opacity": 1},
 "encoding": {"x": {"field": "pos", "type": "quantitative"}, "y": {"field": "v", "type": "quantitative"}}},
{"data": {"values": [{"x":2.017,"y":2.16,"t":"Absolute error in DFs"}]}, "mark": {"type": "text", "fontSize": 33, "fontWeight": "bold", "color": "#262626", "align": "center", "baseline": "middle"},
 "encoding": {"x": {"field": "x", "type": "quantitative"}, "y": {"field": "y", "type": "quantitative"}, "text": {"field": "t"}}},
{"data": {"values": [{"x":0.118,"y":2.187,"t":"C"}]}, "mark": {"type": "text", "fontSize": 21, "fontWeight": "bold", "color": "#000000", "align": "center", "baseline": "middle"},
 "encoding": {"x": {"field": "x", "type": "quantitative"}, "y": {"field": "y", "type": "quantitative"}, "text": {"field": "t"}}},
{"data": {"values": [{"x":-0.126,"y":-0.386,"t":"FIGURE 3 | Intracardiac and non-invasive DF measures filtered by spectral organization (RI). (A) Dispersion plot by patient, using RI (intracardiac) > 0.4 and RI"},{"x":-0.126,"y":-0.495,"t":"(non-invasive) > 0.2. (B) Dispersion plot coded by highest DF (blue) and Median DF (red). (C) Absolute and (D) relative (% of intracardiac measure) difference for all"},{"x":-0.126,"y":-0.603,"t":"electrodes, Highest DF and Median DF."}]}, "mark": {"type": "text", "fontSize": 17.8, "fontWeight": "normal", "color": "#3a3a3a", "align": "left", "baseline": "middle"},
 "encoding": {"x": {"field": "x", "type": "quantitative"}, "y": {"field": "y", "type": "quantitative"}, "text": {"field": "t"}}}
]
},
{
"width": 550, "height": 461,
"layer": [
{"data": {"name": "boxD"}, "mark": {"type": "rule", "color": "#000000", "strokeWidth": 3, "strokeDash": [11, 7]},
 "encoding": {
  "x": {"field": "pos", "type": "quantitative", "scale": {"domain": [0.527, 3.5], "nice": false, "zero": false}, "axis": {"title": null, "values": [1,2,3], "labelExpr": "['','All','HDF','Median'][datum.value]", "domain": false, "ticks": false, "labelFontSize": 36, "labelPadding": 14}},
  "y": {"field": "q3", "type": "quantitative", "scale": {"domain": [0, 0.4], "nice": false}, "axis": {"title": "Relative error", "offset": 5, "values": [0,0.1,0.2,0.3,0.4], "format": ".0%", "titleX": -85, "titleY": 228, "titleAngle": 270, "titleBaseline": "middle", "titleAlign": "center"}},
  "y2": {"field": "hi"}}},
{"data": {"name": "boxD"}, "mark": {"type": "rule", "color": "#000000", "strokeWidth": 3, "strokeDash": [11, 7]},
 "encoding": {"x": {"field": "pos", "type": "quantitative"}, "y": {"field": "lo", "type": "quantitative"}, "y2": {"field": "q1"}}},
{"data": {"name": "boxD"}, "mark": {"type": "tick", "orient": "horizontal", "color": "#000000", "size": 48, "thickness": 3},
 "encoding": {"x": {"field": "pos", "type": "quantitative"}, "y": {"field": "hi", "type": "quantitative"}}},
{"data": {"name": "boxD"}, "mark": {"type": "tick", "orient": "horizontal", "color": "#000000", "size": 48, "thickness": 3},
 "encoding": {"x": {"field": "pos", "type": "quantitative"}, "y": {"field": "lo", "type": "quantitative"}}},
{"data": {"name": "boxD"}, "mark": {"type": "bar", "width": 100, "fill": "#ffffff", "fillOpacity": 0, "stroke": "#0000ff", "strokeWidth": 2.5},
 "encoding": {"x": {"field": "pos", "type": "quantitative"}, "y": {"field": "q1", "type": "quantitative"}, "y2": {"field": "q3"}}},
{"data": {"name": "boxD"}, "mark": {"type": "tick", "orient": "horizontal", "color": "#ff0000", "size": 100, "thickness": 2.5},
 "encoding": {"x": {"field": "pos", "type": "quantitative"}, "y": {"field": "med", "type": "quantitative"}}},
{"data": {"name": "outD"}, "mark": {"type": "point", "shape": "M-1,0L1,0M0,-1L0,1", "filled": false, "color": "#ff0000", "strokeWidth": 2.5, "size": 130, "opacity": 1},
 "encoding": {"x": {"field": "pos", "type": "quantitative"}, "y": {"field": "v", "type": "quantitative"}}},
{"data": {"values": [{"x":1.992,"y":0.432,"t":"Relative error in DFs"}]}, "mark": {"type": "text", "fontSize": 33, "fontWeight": "bold", "color": "#262626", "align": "center", "baseline": "middle"},
 "encoding": {"x": {"field": "x", "type": "quantitative"}, "y": {"field": "y", "type": "quantitative"}, "text": {"field": "t"}}},
{"data": {"values": [{"x":-0.024,"y":0.437,"t":"D"}]}, "mark": {"type": "text", "fontSize": 21, "fontWeight": "bold", "color": "#000000", "align": "center", "baseline": "middle"},
 "encoding": {"x": {"field": "x", "type": "quantitative"}, "y": {"field": "y", "type": "quantitative"}, "text": {"field": "t"}}}
]
}
],
"columns": 2,
"spacing": {"row": 153, "column": 121},
"bounds": "flush",
"resolve": {"scale": {"x": "independent", "y": "independent", "color": "independent"}, "legend": {"color": "independent"}},
"config": {
 "view": {"stroke": null},
 "font": "Liberation Sans",
 "axis": {"grid": false, "domainColor": "#262626", "domainWidth": 3, "tickColor": "#262626", "tickWidth": 2.5, "tickSize": -6, "labelFontSize": 32, "labelFontWeight": "bold", "labelColor": "#262626", "labelFlush": false, "labelOverlap": false, "labelPadding": 10, "titleFontSize": 28, "titleFontWeight": "bold", "titleColor": "#262626"},
 "text": {"font": "Liberation Sans"}
}
}
